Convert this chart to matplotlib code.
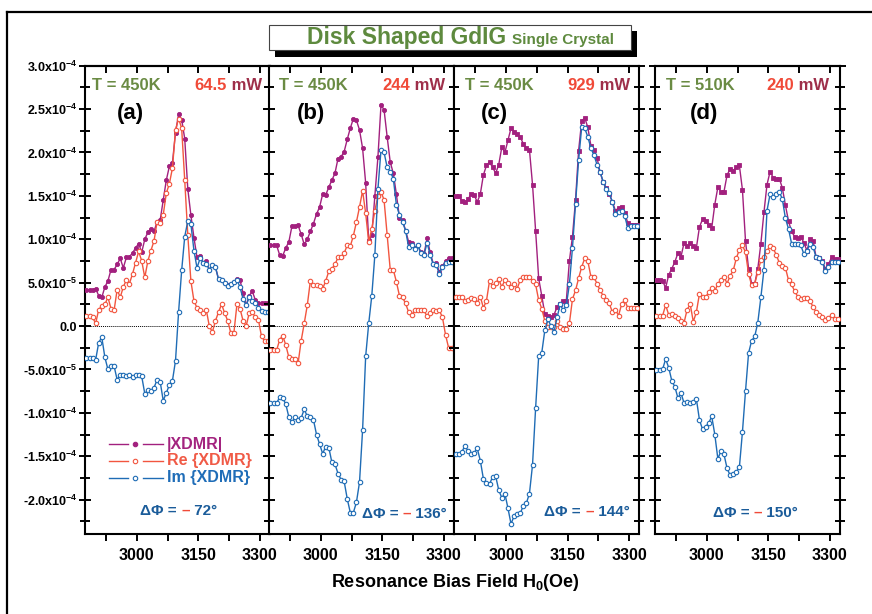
import numpy as np
import matplotlib
matplotlib.use("Agg")
import matplotlib.pyplot as plt
from matplotlib.offsetbox import TextArea, HPacker, AnnotationBbox
from matplotlib.ticker import MultipleLocator, FixedLocator
from matplotlib.patches import Rectangle
from matplotlib.lines import Line2D

plt.rcParams['font.family'] = ['Liberation Sans', 'DejaVu Sans']
plt.rcParams['font.weight'] = 'bold'
plt.rcParams['mathtext.fontset'] = 'custom'
plt.rcParams['mathtext.rm'] = 'Liberation Sans:bold'
plt.rcParams['mathtext.it'] = 'Liberation Sans:bold'
plt.rcParams['mathtext.bf'] = 'Liberation Sans:bold'

# resonance bias field (Oe), same sweep for every panel
field = np.arange(2877, 3322, 7.5)

# XDMR signals, in units of 1e-5
abs_a = [4.1, 4.1, 4.2, 4.3, 3.5, 3.3, 4.5, 5.2, 6.5, 6.5,
         7.1, 7.8, 6.7, 7.9, 8.0, 8.4, 9.0, 9.5, 8.5, 10.0,
         10.8, 11.2, 10.9, 12.0, 12.2, 14.5, 16.8, 18.4, 18.8, 22.3,
         24.4, 23.8, 21.6, 15.8, 12.8, 10.2, 7.9, 8.1, 7.3, 7.5,
         6.5, 7.0, 6.8, 5.4, 5.3, 5.0, 4.7, 4.8, 5.1, 5.4,
         5.3, 3.8, 2.4, 3.5, 4.0, 3.0, 2.6, 2.6, 2.7, 2.7]
re_a = [1.1, 1.1, 1.0, 0.3, 1.9, 2.3, 2.5, 3.3, 2.0, 1.8,
        4.2, 3.3, 4.5, 5.3, 4.9, 6.0, 7.3, 8.6, 7.5, 5.6,
        7.5, 8.7, 9.8, 12.0, 11.9, 12.8, 15.3, 16.4, 18.2, 22.6,
        23.9, 22.8, 16.8, 10.5, 5.2, 2.9, 2.1, 1.9, 1.5, 1.9,
        0.0, -0.7, 0.6, 1.6, 2.5, 1.5, 0.6, -0.8, -0.8, 2.5,
        2.0, 0.6, 0.0, 1.5, 1.6, 1.0, 0.7, -1.2, -1.7, -1.7]
im_a = [-3.7, -3.7, -3.7, -3.9, -1.9, -1.3, -3.6, -5.0, -4.6, -4.6,
        -6.2, -5.6, -5.6, -5.8, -5.6, -5.9, -5.7, -5.7, -5.8, -7.8,
        -7.4, -7.5, -7.1, -6.2, -6.4, -8.6, -7.7, -6.8, -6.3, -4.0,
        1.6, 6.4, 10.3, 12.1, 11.8, 8.7, 6.7, 7.8, 7.3, 7.2,
        6.5, 7.0, 6.8, 5.4, 5.3, 5.0, 4.6, 4.8, 5.1, 5.3,
        4.5, 3.1, 2.4, 3.3, 2.9, 2.7, 2.1, 1.7, 1.6, 1.6]

abs_b = [9.3, 9.3, 9.3, 8.2, 8.1, 9.0, 9.7, 11.5, 11.5, 11.6,
         10.6, 9.4, 10.0, 10.9, 11.8, 12.9, 13.7, 15.2, 15.1, 16.0,
         16.8, 17.6, 19.3, 19.5, 20.1, 21.5, 22.8, 23.9, 23.7, 22.6,
         20.5, 16.5, 9.9, 10.5, 15.0, 19.5, 25.5, 24.9, 21.8, 18.9,
         17.6, 15.2, 12.5, 12.2, 11.0, 9.7, 9.6, 9.0, 9.3, 8.5,
         8.3, 10.1, 8.5, 7.2, 7.3, 6.2, 6.9, 7.5, 7.8, 7.8]
re_b = [-2.8, -2.8, -2.8, -1.6, -1.1, -2.2, -3.6, -3.8, -3.8, -4.3,
        -1.7, 0.3, 2.4, 5.2, 4.7, 4.7, 4.6, 4.3, 5.2, 6.3,
        6.6, 7.1, 7.9, 7.9, 8.4, 9.3, 9.2, 10.4, 12.0, 13.7,
        15.6, 13.0, 9.7, 11.2, 13.3, 15.0, 15.5, 14.5, 10.5, 6.5,
        6.5, 5.1, 3.5, 3.3, 2.6, 1.6, 1.3, 1.8, 1.9, 1.9,
        1.8, 1.1, 1.5, 1.9, 1.7, 1.8, 1.0, -1.0, -2.5, -2.5]
im_b = [-8.9, -8.9, -8.9, -8.2, -8.3, -9.0, -10.5, -11.1, -10.5, -10.8,
        -10.6, -9.6, -10.4, -10.5, -10.8, -12.5, -13.6, -14.7, -13.9, -14.0,
        -15.7, -15.9, -17.0, -17.7, -17.9, -19.9, -21.5, -21.5, -20.3, -18.0,
        -12.0, -3.5, 0.3, 3.5, 8.2, 15.8, 20.3, 20.0, 18.3, 17.8,
        17.0, 14.0, 12.8, 12.0, 11.0, 9.1, 9.3, 8.9, 9.3, 8.4,
        8.2, 9.6, 8.2, 7.1, 7.0, 6.0, 6.8, 7.3, 7.4, 7.4]

abs_c = [15.0, 15.0, 14.4, 14.3, 14.6, 15.2, 15.1, 14.3, 15.2, 17.4,
         18.5, 18.9, 18.3, 17.6, 18.6, 20.6, 20.0, 21.4, 22.8, 22.4,
         22.1, 21.8, 21.0, 20.5, 20.3, 16.3, 11.0, 5.5, 3.5, 1.4,
         1.1, 1.0, 1.3, 2.2, 2.5, 2.9, 2.9, 7.5, 10.3, 14.5,
         20.2, 23.6, 24.0, 22.9, 20.8, 20.3, 19.4, 17.7, 16.6, 15.9,
         15.2, 14.3, 13.3, 13.6, 13.7, 13.0, 11.9, 11.7, 11.7, 11.7]
re_c = [3.4, 3.4, 3.4, 2.9, 3.0, 3.2, 3.1, 2.7, 3.4, 2.1,
        2.9, 5.2, 4.6, 5.0, 5.4, 4.5, 5.3, 5.0, 4.5, 4.8,
        4.3, 5.3, 5.6, 5.6, 5.7, 5.2, 4.8, 3.0, 2.0, 0.6,
        -0.1, -0.1, -0.1, 0.6, -0.1, -0.3, -0.3, 0.3, 3.1, 4.1,
        5.5, 6.8, 7.8, 7.5, 5.7, 5.6, 4.9, 4.1, 3.5, 3.0,
        2.6, 1.6, 1.9, 1.2, 2.5, 3.0, 2.1, 2.1, 2.1, 2.1]
im_c = [-14.7, -14.7, -14.5, -13.8, -14.4, -14.8, -14.6, -14.1, -15.5, -17.6,
        -18.1, -18.2, -17.4, -17.3, -18.9, -19.8, -19.3, -21.0, -22.8, -21.9,
        -21.7, -21.6, -20.7, -20.4, -19.3, -16.0, -9.5, -3.5, -3.1, -0.5,
        0.8, 0.0, -0.7, 1.0, 2.5, 1.8, 2.4, 4.8, 9.0, 14.1,
        19.1, 22.9, 22.8, 21.8, 20.5, 19.7, 18.6, 17.8, 16.6, 15.8,
        15.3, 14.3, 12.9, 13.1, 13.2, 12.7, 11.3, 11.5, 11.5, 11.5]

abs_d = [5.3, 5.3, 5.2, 4.4, 5.9, 6.6, 7.4, 8.4, 8.0, 9.6,
         9.2, 9.6, 9.2, 9.0, 11.4, 12.3, 12.1, 11.6, 11.3, 14.0,
         16.0, 15.5, 15.5, 17.4, 18.1, 17.9, 18.3, 18.5, 15.7, 9.8,
         6.6, 4.9, 4.9, 6.6, 9.5, 13.1, 16.3, 17.8, 17.1, 17.0,
         17.0, 15.9, 13.9, 12.1, 10.9, 10.3, 10.1, 10.3, 9.6, 8.7,
         10.0, 9.8, 7.9, 7.8, 7.5, 6.6, 7.1, 7.9, 7.7, 7.7]
re_d = [1.2, 1.2, 1.2, 2.4, 1.3, 1.4, 1.2, 0.9, 0.6, 0.4,
        1.9, 2.5, 0.5, 1.6, 3.7, 3.4, 3.3, 3.9, 4.4, 4.0,
        4.9, 5.3, 5.7, 4.9, 5.8, 6.4, 7.8, 8.8, 9.3, 8.5,
        6.0, 4.7, 4.9, 6.2, 7.6, 8.0, 8.7, 9.2, 9.0, 8.2,
        7.3, 6.9, 6.7, 5.3, 4.8, 4.0, 3.4, 3.1, 3.2, 3.2,
        2.9, 2.2, 1.6, 1.3, 1.0, 0.7, 0.9, 1.3, 0.8, 0.8]
im_d = [-5.1, -5.1, -5.0, -3.8, -4.8, -6.3, -7.0, -8.3, -7.7, -8.9,
        -8.8, -8.9, -8.8, -8.4, -10.8, -11.9, -11.6, -11.2, -10.4, -12.5,
        -15.3, -14.4, -14.8, -16.4, -17.2, -17.0, -16.8, -16.3, -12.2, -7.5,
        -3.1, -1.7, -1.2, 0.4, 3.3, 6.5, 13.3, 15.2, 14.9, 15.2,
        15.5, 14.6, 12.4, 11.2, 9.5, 9.4, 9.4, 9.3, 8.3, 8.7,
        9.4, 9.1, 7.9, 7.8, 7.4, 6.3, 6.8, 7.4, 7.4, 7.4]

letters = ['(a)', '(b)', '(c)', '(d)']
temps = ['T = 450K', 'T = 450K', 'T = 450K', 'T = 510K']
powers = ['64.5', '244', '929', '240']
phases = ['72', '136', '144', '150']

ytick_vals = [30, 25, 20, 15, 10, 5, 0, -5, -10, -15, -20]
ytick_labels = ['3.0x10$^{-4}$', '2.5x10$^{-4}$', '2.0x10$^{-4}$', '1.5x10$^{-4}$',
                '1.0x10$^{-4}$', '5.0x10$^{-5}$', '0.0', '-5.0x10$^{-5}$',
                '-1.0x10$^{-4}$', '-1.5x10$^{-4}$', '-2.0x10$^{-4}$']
xtick_major = [3000, 3150, 3300]
xtick_minor = [2925, 3075, 3225]

# colours
purple = '#a2207e'
coral = '#f2553f'
blue = '#1f6cb5'
green = '#6a8b43'
num_red = '#f04a38'
maroon = '#9e2f4a'
phi_blue = '#1b5c9a'

W, H = 872, 614
fig = plt.figure(figsize=(W / 100, H / 100), dpi=100)

# outer frame (top and left edges only visible)
fig.add_artist(Line2D([7 / W, 1.0], [1 - 12 / H, 1 - 12 / H], color='black', lw=1.6,
                      transform=fig.transFigure))
fig.add_artist(Line2D([7 / W, 7 / W], [1 - 12 / H, 0.0], color='black', lw=1.6,
                      transform=fig.transFigure))

# title box with shadow
fig.add_artist(Rectangle((275.3 / W, 1 - 56.5 / H), 361.4 / W, 25 / H, facecolor='black',
                         edgecolor='none', transform=fig.transFigure))
fig.add_artist(Rectangle((269.3 / W, 1 - 50 / H), 361.4 / W, 25 / H, facecolor='white',
                         edgecolor='#444444', lw=0.8, transform=fig.transFigure))
fig.text(506 / W, 1 - 44.3 / H, 'Disk Shaped GdIG', ha='right', va='baseline',
         fontsize=16.5, color='#5e8a3e')
fig.text(511.5 / W, 1 - 44.3 / H, 'Single Crystal', ha='left', va='baseline',
         fontsize=11, color='#5e8a3e')

panel_left = [85, 269, 454.3, 655]
panel_w = 184.5
top_px, bot_px = 65.7, 534.3

series = [(abs_a, re_a, im_a, 'o'), (abs_b, re_b, im_b, 'o'),
          (abs_c, re_c, im_c, 's'), (abs_d, re_d, im_d, 's')]

t_x = [0.038, 0.054, 0.058, 0.060]
p_x = [0.959, 0.954, 0.952, 0.943]
l_x = [0.244, 0.230, 0.215, 0.266]
ph_xy = [(0.507, 0.050), (0.734, 0.043), (0.719, 0.048), (0.545, 0.045)]

for k, left in enumerate(panel_left):
    ax = fig.add_axes([left / W, 1 - bot_px / H, panel_w / W, (bot_px - top_px) / H])
    ab, re, im, mk = series[k]
    ax.axhline(0, color='black', lw=0.7, ls=(0, (1, 1)), zorder=1)
    ax.plot(field, ab, color=purple, lw=1.0, marker=mk, ms=3.0, mfc=purple, mec=purple,
            mew=0.6, zorder=3)
    ax.plot(field, re, color=coral, lw=1.0, marker='o', ms=3.2, mfc='white', mec=coral,
            mew=0.8, zorder=4)
    ax.plot(field, im, color=blue, lw=1.0, marker='o', ms=3.2, mfc='white', mec=blue,
            mew=0.8, zorder=5)

    ax.set_xlim(2873.5, 3324)
    ax.set_ylim(-24, 30)
    ax.set_xticks(xtick_major)
    ax.xaxis.set_minor_locator(FixedLocator(xtick_minor))
    ax.tick_params(axis='x', which='both', direction='out', length=5, width=1.4,
                   top=False, labelsize=11.5, pad=5)
    ax.set_yticks(ytick_vals)
    ax.yaxis.set_minor_locator(MultipleLocator(2.5))
    ax.tick_params(axis='y', which='major', direction='inout', length=9, width=1.4,
                   left=True, right=True, labelsize=9, pad=1)
    ax.tick_params(axis='y', which='minor', direction='inout', length=7, width=1.4,
                   left=True, right=True)
    if k == 0:
        ax.set_yticklabels(ytick_labels)
    else:
        ax.tick_params(axis='y', labelleft=False)
    for sp in ax.spines.values():
        sp.set_linewidth(1.5)

    sec = ax.secondary_xaxis('top')
    sec.set_xticks(xtick_major)
    sec.xaxis.set_minor_locator(FixedLocator(xtick_minor))
    sec.tick_params(axis='x', which='both', direction='in', length=5, width=1.4,
                    labeltop=False)
    sec.spines['top'].set_linewidth(1.5)

    ax.text(t_x[k], 0.957, temps[k], transform=ax.transAxes, ha='left', va='center',
            fontsize=12, color=green)
    pw = HPacker(children=[TextArea(powers[k], textprops=dict(fontsize=12, color=num_red,
                                                              fontweight='bold')),
                           TextArea(' mW', textprops=dict(fontsize=12, color=maroon,
                                                          fontweight='bold'))],
                 align='baseline', pad=0, sep=0)
    ax.add_artist(AnnotationBbox(pw, (p_x[k], 0.957), xycoords='axes fraction',
                                 box_alignment=(1, 0.5), frameon=False, pad=0))
    ax.text(l_x[k], 0.899, letters[k], transform=ax.transAxes, ha='center', va='center',
            fontsize=16, color='black')
    ph = HPacker(children=[TextArea('\u0394\u03a6 = ', textprops=dict(fontsize=11, color=phi_blue,
                                                                     fontweight='bold')),
                           TextArea('\u2013', textprops=dict(fontsize=11, color=num_red,
                                                             fontweight='bold')),
                           TextArea(' ' + phases[k] + '\u00b0',
                                    textprops=dict(fontsize=11, color=phi_blue,
                                                   fontweight='bold'))],
                 align='baseline', pad=0, sep=0)
    ax.add_artist(AnnotationBbox(ph, ph_xy[k], xycoords='axes fraction',
                                 box_alignment=(0.5, 0.5), frameon=False, pad=0))

    if k == 0:
        rows = [(0.1927, purple, purple, '|XDMR|', '#a3237f'),
                (0.157, coral, 'white', 'Re {XDMR}', '#f05a46'),
                (0.121, blue, 'white', 'Im {XDMR}', '#1f6db8')]
        for yy, c, fc, lab, tc in rows:
            ax.plot([0.130, 0.233], [yy, yy], color=c, lw=1.0, transform=ax.transAxes)
            ax.plot([0.314, 0.423], [yy, yy], color=c, lw=1.0, transform=ax.transAxes)
            ax.plot([0.271], [yy], marker='o', ms=3.2, mfc=fc, mec=c, mew=0.8,
                    transform=ax.transAxes)
            ax.text(0.444, yy, lab, transform=ax.transAxes, ha='left', va='center',
                    fontsize=11.5, color=tc)

fig.text(455 / W, 1 - 586.7 / H, 'Resonance Bias Field H$_0$(Oe)', ha='center',
         va='baseline', fontsize=13, color='black')

fig.savefig('out.png', dpi=100)
